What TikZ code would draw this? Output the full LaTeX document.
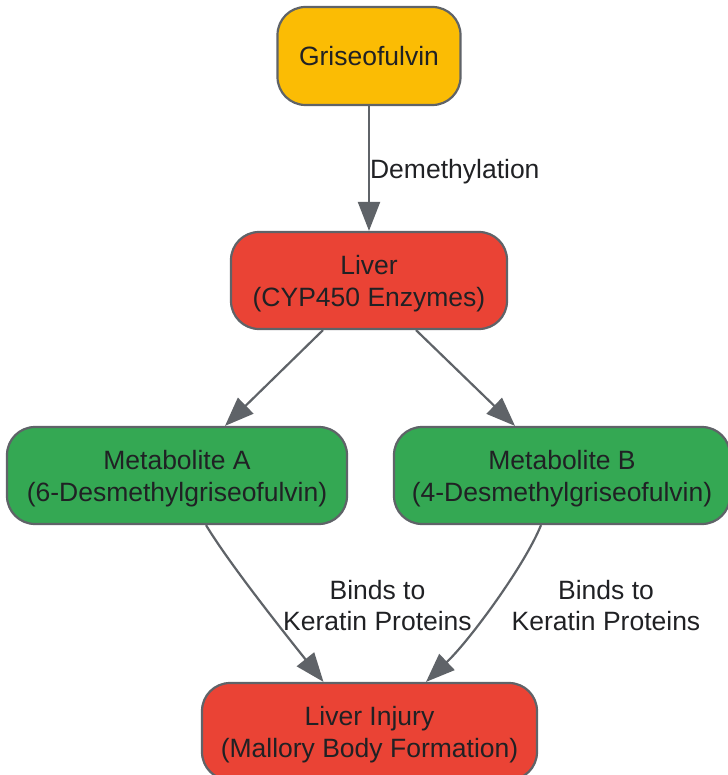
\documentclass[tikz,border=0pt]{standalone}
\usepackage{fontspec}
\setmainfont{Liberation Sans}
\usetikzlibrary{arrows.meta,calc}
\definecolor{gyellow}{HTML}{FBBC04}
\definecolor{gred}{HTML}{EA4335}
\definecolor{ggreen}{HTML}{34A853}
\definecolor{gborder}{HTML}{5F6368}
\definecolor{gtext}{HTML}{202124}
\newcommand\tup{\rule{0pt}{25.5pt}}
\begin{document}
\begin{tikzpicture}[x=1pt,y=-1pt,
  box/.style={draw=gborder, line width=2.2pt, rounded corners=28pt, align=center, text=gtext, font=\fontsize{26.5}{32}\selectfont, inner sep=0pt},
  conn/.style={draw=gborder, line width=2.2pt, -{Triangle[length=29pt,width=22pt]}},
  lbl/.style={text=gtext, font=\fontsize{26.5}{31}\selectfont, align=center, inner sep=0pt}]
\useasboundingbox (0,0) rectangle (727,775);
\node[box, fill=gyellow, minimum width=183pt, minimum height=98pt] (gri) at (369,56) {Griseofulvin};
\node[box, fill=gred, minimum width=276pt, minimum height=97pt] (liv) at (369,280.5) {\tup Liver\\(CYP450 Enzymes)};
\node[box, fill=ggreen, minimum width=340pt, minimum height=97pt] (ma) at (177,475.5) {\tup Metabolite A\\(6-Desmethylgriseofulvin)};
\node[box, fill=ggreen, minimum width=336pt, minimum height=97pt] (mb) at (562,475.5) {\tup Metabolite B\\(4-Desmethylgriseofulvin)};
\node[box, fill=gred, minimum width=335pt, minimum height=97pt] (inj) at (369.5,731.5) {\tup Liver Injury\\(Mallory Body Formation)};

\draw[conn] (gri) -- node[lbl, anchor=west, yshift=-3pt] (dem) {Demethylation} (liv);
\draw[conn] ($(liv.south)+(-46,0)$) -- ($(ma.north)+(48,0)$);
\draw[conn] ($(liv.south)+(47,0)$) -- ($(mb.north)+(-47,0)$);
\draw[conn] ($(ma.south)+(29,0)$) .. controls (230,565) and (290,640) .. ($(inj.north)+(-46,0)$);
\draw[conn] ($(mb.south)+(-21,0)$) .. controls (525,565) and (470,640) .. ($(inj.north)+(56.5,0)$);
\node[lbl] (la) at (377.5,606) {Binds to\\Keratin Proteins};
\node[lbl] (lb) at (606,606) {Binds to\\Keratin Proteins};
\end{tikzpicture}
\end{document}
